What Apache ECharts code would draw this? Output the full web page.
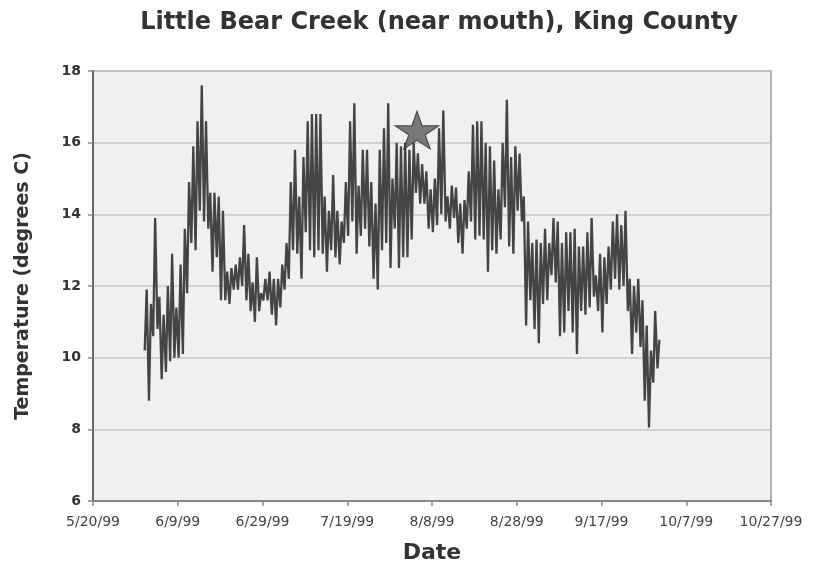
<!DOCTYPE html>
<html><head><meta charset="utf-8">
<script src="https://cdn.jsdelivr.net/npm/echarts@6/dist/echarts.min.js"></script>
<style>html,body{margin:0;padding:0;background:#fff}#c{width:816px;height:570px}</style>
</head><body><div id="c"></div>
<script>
// ---- data ----
const axisOrigin = '1999-05-20';          // x axis starts here (day 0)
const xTickLabels = ['5/20/99','6/9/99','6/29/99','7/19/99','8/8/99','8/28/99','9/17/99','10/7/99','10/27/99'];
const yTickLabels = ['6','8','10','12','14','16','18'];
const firstDay = '1999-06-01';            // first day of logger record
const lowHour = 5, highHour = 16;         // time of daily min / max
const juneLow  = [10.2,8.8,10.6,10.8,9.4,9.6,9.9,10.0,10.0,10.1,11.8,13.2,13.0,14.1,13.8,13.6,12.4,12.8,11.6,11.6,11.5,11.9,11.9,12.0,11.6,11.3,11.0,11.3,11.6,11.6];
const juneHigh = [11.9,11.5,13.9,11.7,11.2,12.0,12.9,11.4,12.6,13.6,14.9,15.9,16.6,17.6,16.6,14.6,14.6,14.5,14.1,12.4,12.5,12.6,12.8,13.7,12.9,12.1,12.8,11.8,12.2,12.4];
const julyLow  = [11.2,10.9,11.4,11.9,12.2,13.0,12.9,12.2,13.5,13.0,12.8,13.0,12.9,12.4,13.0,12.8,12.6,13.2,13.4,13.8,12.9,13.4,13.6,13.1,12.2,11.9,13.0,13.2,12.5,13.6,12.5];
const julyHigh = [12.2,12.2,12.6,13.2,14.9,15.8,14.5,15.6,16.6,16.8,16.8,16.8,14.5,14.1,15.1,14.1,13.8,14.9,16.6,17.1,14.8,15.8,15.8,14.9,14.3,15.8,16.4,17.1,15.0,16.0,15.9];
const augLow   = [12.8,12.8,13.3,14.6,14.3,14.3,13.6,13.5,13.7,14.0,13.8,13.6,13.9,13.2,12.9,13.6,13.8,13.3,13.4,13.3,12.4,13.0,12.9,13.3,14.2,13.1,12.9,14.1,13.8,10.9,11.6];
const augHigh  = [16.0,15.8,16.0,15.7,15.4,15.2,14.7,15.0,16.4,16.9,14.5,14.8,14.75,14.3,14.4,15.2,16.5,16.6,16.6,16.0,15.9,15.5,14.7,16.0,17.2,15.6,15.9,15.7,14.5,13.8,13.2];
const sepLow   = [10.8,10.4,11.5,11.6,12.3,12.1,10.6,10.7,11.3,10.7,10.1,11.3,11.2,11.4,11.7,11.3,10.7,11.5,11.9,12.2,11.9,12.0,11.3,10.1,10.7,10.3,8.8,8.05,9.3,9.7];
const sepHigh  = [13.3,13.2,13.6,13.2,13.9,13.8,13.2,13.5,13.5,13.6,13.1,13.1,13.5,13.9,12.3,12.9,12.8,13.1,13.8,14.0,13.7,14.1,12.2,12.0,12.2,11.6,10.9,10.2,11.3,10.5];
const starPoint = {date:'1999-08-04', hour:11, value:16.35};

// ---- build ----
function dayOffset(dateStr, hour){
  const p = dateStr.split('-').map(Number), o = axisOrigin.split('-').map(Number);
  return (Date.UTC(p[0],p[1]-1,p[2]) - Date.UTC(o[0],o[1]-1,o[2]))/864e5 + hour/24;
}
const lows = [].concat(juneLow, julyLow, augLow, sepLow);
const highs = [].concat(juneHigh, julyHigh, augHigh, sepHigh);
const start = dayOffset(firstDay, 0);
const lineData = [];
for (let i = 0; i < lows.length; i++) {
  lineData.push([start + i + lowHour/24, lows[i]]);
  lineData.push([start + i + highHour/24, highs[i]]);
}
const starPath = 'path://M50,0 L61,35 L98,35 L68,57 L79,91 L50,70 L21,91 L32,57 L2,35 L39,35 Z';
const font = '"DejaVu Sans", "Liberation Sans", Arial, sans-serif';

const chart = echarts.init(document.getElementById('c'), null, {renderer:'canvas'});
chart.setOption({
  backgroundColor:'#fff',
  animation:false,
  title:{text:'Little Bear Creek (near mouth), King County', left:434, textAlign:'center', top:6,
    textStyle:{fontFamily:font, fontSize:24, fontWeight:'bold', color:'#333'}},
  grid:{left:93, right:45, top:71, bottom:69, show:true, backgroundColor:'#f0f0f0', borderColor:'#b0b0b0', borderWidth:2},
  xAxis:{type:'value', min:0, max:(xTickLabels.length-1)*20, interval:20,
    name:'Date', nameLocation:'middle', nameGap:41,
    nameTextStyle:{fontFamily:font, fontSize:22, fontWeight:'bold', color:'#333'},
    axisLine:{lineStyle:{color:'#888', width:2}},
    axisTick:{show:true, length:5, lineStyle:{color:'#888', width:1.5}},
    axisLabel:{margin:14, fontFamily:font, fontSize:14, color:'#444', formatter:v=>xTickLabels[Math.round(v/20)]},
    splitLine:{show:false}},
  yAxis:{type:'value', min:6, max:18, interval:2,
    name:'Temperature (degrees C)', nameLocation:'middle', nameGap:60,
    nameTextStyle:{fontFamily:font, fontSize:19, fontWeight:'bold', color:'#333'},
    axisLine:{show:true, lineStyle:{color:'#666', width:2}},
    axisTick:{show:true, length:5, lineStyle:{color:'#888', width:1.5}},
    axisLabel:{margin:12, fontFamily:font, fontSize:14, fontWeight:'bold', color:'#333', formatter:v=>yTickLabels[Math.round((v-6)/2)]},
    splitLine:{lineStyle:{color:'#c8c8c8', width:1.5}}},
  series:[
    {type:'line', data:lineData, showSymbol:false, symbol:'none',
      lineStyle:{color:'#444', width:2.3}, z:2},
    {type:'scatter', data:[[dayOffset(starPoint.date, starPoint.hour), starPoint.value]],
      symbol:starPath, symbolSize:[44,38],
      itemStyle:{color:'#5a5a5a', borderColor:'#2a2a2a', borderWidth:1}, z:3}
  ]
});
</script></body></html>
